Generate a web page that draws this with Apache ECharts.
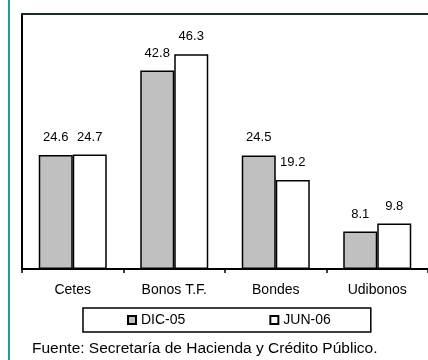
<!DOCTYPE html>
<html>
<head>
<meta charset="utf-8">
<script src="https://cdn.jsdelivr.net/npm/echarts@6/dist/echarts.min.js"></script>
<style>
  html, body { margin: 0; padding: 0; background: #fff; }
  #chart { width: 428px; height: 360px; }
</style>
</head>
<body>
<div id="chart"></div>
<script>
// Tenencia por instrumento (%), diciembre 2005 vs junio 2006
const categories = ['Cetes', 'Bonos T.F.', 'Bondes', 'Udibonos'];
const seriesNames = ['DIC-05', 'JUN-06'];
const dic05 = [24.6, 42.8, 24.5, 8.1];
const jun06 = [24.7, 46.3, 19.2, 9.8];
const sourceNote = 'Fuente: Secretaría de Hacienda y Crédito Público.';

const FONT = '"Liberation Sans", Arial, sans-serif';

const chart = echarts.init(document.getElementById('chart'), null, { renderer: 'canvas' });

const valueLabel = {
  show: true,
  position: 'top',
  distance: 11,
  color: '#000',
  fontSize: 13,
  fontFamily: FONT,
  formatter: p => p.value.toFixed(1)
};

chart.setOption({
  animation: false,
  backgroundColor: '#fff',
  textStyle: { fontFamily: FONT },
  title: {
    text: sourceNote,
    left: 32,
    top: 341,
    padding: 0,
    textStyle: { fontSize: 15.5, fontWeight: 'normal', color: '#000', fontFamily: FONT }
  },
  legend: {
    data: seriesNames,
    left: 83,
    top: 308,
    orient: 'horizontal',
    padding: [5, 40, 5, 44],
    itemGap: 84,
    itemWidth: 8,
    itemHeight: 8,
    icon: 'rect',
    borderColor: '#000',
    borderWidth: 1.5,
    textStyle: { fontSize: 14, color: '#000', fontFamily: FONT }
  },
  grid: { left: 22, top: 14, width: 414, height: 255, containLabel: false },
  xAxis: [
    {
      type: 'category',
      data: categories,
      position: 'bottom',
      axisLine: { show: true, lineStyle: { color: '#000', width: 2 } },
      axisTick: { show: true, length: 4, lineStyle: { color: '#000', width: 1.5 } },
      axisLabel: { color: '#000', fontSize: 14, margin: 14, fontFamily: FONT },
      splitLine: { show: false }
    },
    {
      // top edge of the plot frame
      type: 'category',
      data: categories,
      position: 'top',
      axisLine: { show: true, lineStyle: { color: '#1a2c2c', width: 2 } },
      axisTick: { show: false },
      axisLabel: { show: false },
      splitLine: { show: false }
    }
  ],
  yAxis: {
    type: 'value',
    min: 0,
    max: 55,
    axisLine: { show: true, lineStyle: { color: '#000', width: 2 } },
    axisTick: { show: false },
    axisLabel: { show: false },
    splitLine: { show: false }
  },
  series: [
    {
      name: seriesNames[0],
      type: 'bar',
      xAxisIndex: 0,
      data: dic05,
      barWidth: 34,
      barGap: '0%',
      itemStyle: { color: '#c0c0c0', borderColor: '#000', borderWidth: 1.5 },
      label: valueLabel
    },
    {
      name: seriesNames[1],
      type: 'bar',
      xAxisIndex: 0,
      data: jun06,
      barWidth: 34,
      barGap: '0%',
      itemStyle: { color: '#ffffff', borderColor: '#000', borderWidth: 1.5 },
      label: valueLabel
    }
  ],
  graphic: [
    {
      // teal rule along the left edge of the page
      type: 'rect',
      left: 8,
      top: 0,
      shape: { width: 2, height: 360 },
      style: { fill: '#1e9c9a' },
      silent: true
    }
  ]
});
</script>
</body>
</html>
